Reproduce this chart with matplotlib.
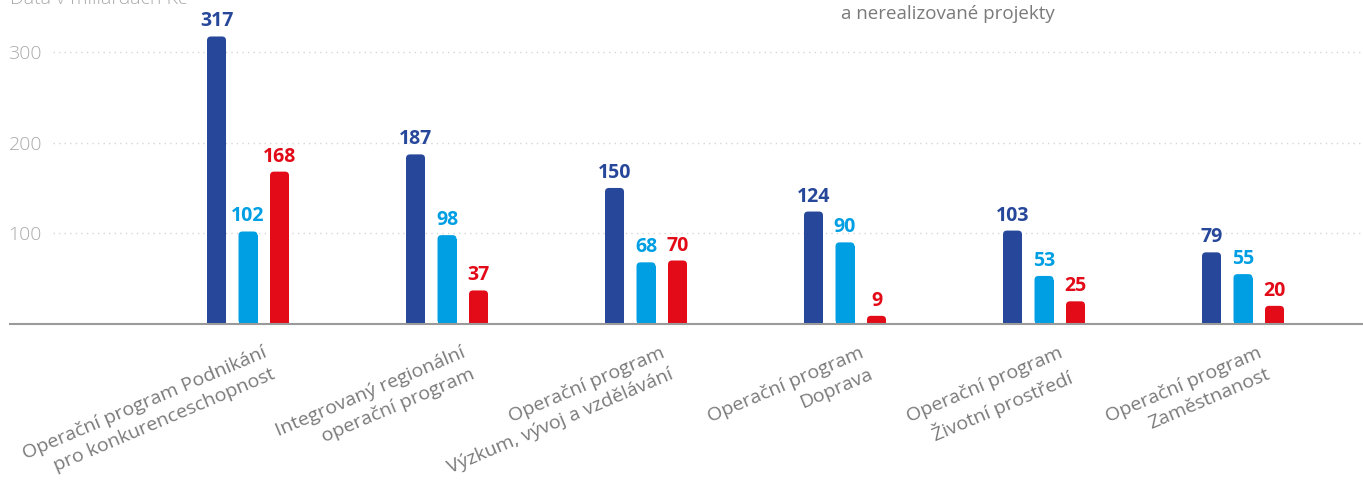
import matplotlib.pyplot as plt
from matplotlib.patches import FancyBboxPatch
import numpy as np

# data (miliardy Kč)
programs = ["Operační program Podnikání\npro konkurenceschopnost",
            "Integrovaný regionální\noperační program",
            "Operační program\nVýzkum, vývoj a vzdělávání",
            "Operační program\nDoprava",
            "Operační program\nŽivotní prostředí",
            "Operační program\nZaměstnanost"]
series_1 = [317, 187, 150, 124, 103, 79]
series_2 = [102, 98, 68, 90, 53, 55]
series_3 = [168, 37, 70, 9, 25, 20]
colors = ["#27479a", "#009fe3", "#e20b17"]

plt.rcParams['font.family'] = ['Open Sans', 'DejaVu Sans']

W, H = 1363, 484
fig = plt.figure(figsize=(W / 100, H / 100), dpi=100)
ax_left, ax_bottom = 53 / W, 1 - 324 / H
ax = fig.add_axes([ax_left, ax_bottom, 1 - ax_left, 1 - ax_bottom])

x = np.arange(len(programs))
ax.set_xlim(-0.98, 5.603)
ax.set_ylim(0, 324 / 0.907)

# pixel scale for rounded tops
px_x = (1 - ax_left) * W / (5.603 + 0.98)
px_y = (1 - ax_bottom) * H / (324 / 0.907)
bw = 19 / px_x
step = 31.5 / px_x
r = 4 / px_x
aspect = px_x / px_y

for k, (vals, c) in enumerate(zip([series_1, series_2, series_3], colors)):
    xs = x + (k - 1) * step
    ax.bar(xs, [v - r * aspect for v in vals], width=bw, color=c, linewidth=0, zorder=3)
    for xi, v in zip(xs, vals):
        ax.add_patch(FancyBboxPatch((xi - bw / 2, 0), bw, v,
                                    boxstyle=f"round,pad=0,rounding_size={r}",
                                    mutation_aspect=aspect, fc=c, ec='none', zorder=3))
        ax.annotate(str(v), (xi, v), xytext=(0, 5), textcoords='offset pixels',
                    ha='center', va='bottom', fontsize=14, fontweight='bold', color=c)

# grid and axis
for g in [100, 200, 300]:
    ax.axhline(g, color='#d6d6d6', lw=1, ls=(0, (1, 3)), zorder=1)
ax.plot([-43 / ((1 - ax_left) * W), 1], [0, 0], transform=ax.get_yaxis_transform(),
        color='#9a9a9a', lw=1.5, clip_on=False, zorder=4)

for s in ax.spines.values():
    s.set_visible(False)
ax.set_yticks([100, 200, 300])
ax.tick_params(axis='y', length=0, pad=8, labelsize=14, labelcolor='#aaaaaa')
for t in ax.get_yticklabels():
    t.set_fontweight('light')
ax.set_xticks([])

for xi, lab in zip(x, programs):
    ax.annotate(lab, (xi, 0), xytext=(14, -20), textcoords='offset pixels',
                rotation=23, rotation_mode='anchor', ha='right', va='top',
                multialignment='right', linespacing=1.35, fontsize=14,
                color='#7a7a7a', annotation_clip=False)

fig.text(10 / W, 1 - 4 / H, "Data v miliardách Kč", fontsize=14, color='#aaaaaa',
         fontweight='light', va='baseline', ha='left')
fig.text(841 / W, 1 - 19 / H, "a nerealizované projekty", fontsize=13.5,
         color='#7a7a7a', va='baseline', ha='left')

fig.savefig("out.png", dpi=100)
